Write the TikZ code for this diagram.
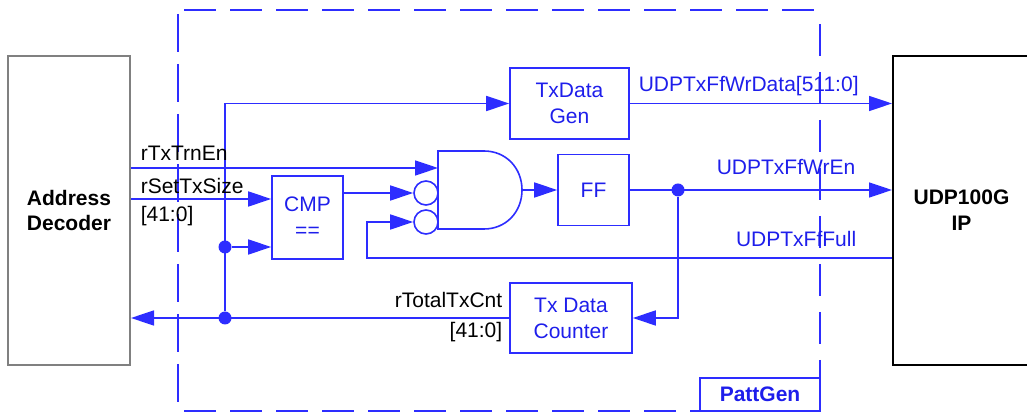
\documentclass[tikz,border=0pt]{standalone}
\usepackage{fontspec}
\setmainfont{Liberation Sans}
\usetikzlibrary{arrows.meta}
\definecolor{lnblue}{RGB}{45,45,255}
\definecolor{txblue}{RGB}{30,30,235}

\begin{document}
\begin{tikzpicture}[x=0.5pt,y=-0.5pt,>={Triangle[length=11.5pt,width=7.5pt]},line width=0.8pt,color=lnblue,
  blk/.style={rectangle,draw=lnblue,text=txblue,inner sep=0pt,align=center,font=\fontsize{10.5}{13}\selectfont},
  ext/.style={rectangle,line width=1pt,text=black,inner sep=0pt,align=center,font=\fontsize{10.5}{13}\selectfont\bfseries},
  lbl/.style={inner sep=0pt,text=black,font=\fontsize{10.5}{13}\selectfont},
  dot/.style={circle,fill=lnblue,inner sep=0pt,minimum size=6.5pt},
  inv/.style={circle,draw=lnblue,fill=white,inner sep=0pt,minimum size=12pt},
  frame/.style={line width=1pt,dash pattern=on 16pt off 7pt}]

            \useasboundingbox (0,0) rectangle (1027,415);

            % PattGen frame
            \draw[frame] (184,10) -- (816,10);
            \draw[frame] (184,411) -- (816,411);
            \draw[frame,dash pattern=on 19pt off 6pt] (178,14) -- (178,411);
            \draw[frame,dash pattern=on 16pt off 8pt] (820,24) -- (820,411);
            \node[blk,font=\fontsize{10.5}{13}\selectfont\bfseries,minimum width=60pt,minimum height=16.5pt] (pg) at (760,394.5) {PattGen};

            \node[ext,draw=gray,minimum width=61pt,minimum height=154.5pt] (ad) at (69,210.5) {Address\\Decoder};
            \node[ext,draw=black,minimum width=68.5pt,minimum height=154.5pt] (udp) at (961.5,210.5) {UDP100G\\IP};

            \node[blk,minimum width=59.5pt,minimum height=35.5pt] (gen) at (569.5,103.5) {TxData\\Gen};
            \node[blk,minimum width=35.5pt,minimum height=41.5pt] (cmp) at (307.5,217.5) {CMP\\==};
            \node[blk,minimum width=35.5pt,minimum height=35.5pt] (ff) at (593.5,190) {FF};
            \node[blk,minimum width=61pt,minimum height=35pt] (cnt) at (571,318) {Tx Data\\Counter};

            % and gate
            \draw (438,151) -- (484,151) .. controls (506,151) and (522,168) .. (522,190)
                .. controls (522,212) and (506,229) .. (484,229) -- (438,229) -- cycle;
            \coordinate (gin) at (438,168);
            \coordinate (gout) at (522,190);
            \node[inv] (b1) at (426,193) {};
            \node[inv] (b2) at (426,222) {};

            \coordinate (t) at (225,103.5);
            \coordinate (fb) at (367,258);
            \node[dot] (j1) at (225,247) {};
            \node[dot] (j2) at (225,318) {};
            \node[dot] (j3) at (678,190) {};

            \draw (t) -- (j2);
            \draw[->] (t) -- (gen);
            \draw[->] (j1) -- (cmp.west |- j1);
            \draw[->] (ad.east |- gin) -- (gin);
            \draw[->] (ad.east |- 0,199) -- (cmp.west |- 0,199);
            \draw[->] (cmp.east |- b1) -- (b1);
            \draw[->] (udp.west |- fb) -- (fb) |- (b2);
            \draw[->] (gout) -- (ff);
            \draw[->] (ff) -- (udp.west |- ff);
            \draw[->] (j3) |- (cnt);
            \draw[->] (cnt) -- (ad.east |- cnt);
            \draw[->] (gen) -- (udp.west |- gen);

            \node[lbl,anchor=base west] (s1) at (140,161) {rTxTrnEn};
            \node[lbl,anchor=base west] (s2) at (140,194) {rSetTxSize};
            \node[lbl,anchor=base west] (s3) at (140,222) {[41:0]};
            \node[lbl,anchor=base east] (s4) at (503,308) {rTotalTxCnt};
            \node[lbl,anchor=base east] (s5) at (503,338) {[41:0]};
            \node[lbl,anchor=base west,text=txblue] (s6) at (638,92) {UDPTxFfWrData[511:0]};
            \node[lbl,anchor=base east,text=txblue] (s7) at (856,175) {UDPTxFfWrEn};
            \node[lbl,anchor=base east,text=txblue] (s8) at (857,247) {UDPTxFfFull};
        \end{tikzpicture}
\end{document}
